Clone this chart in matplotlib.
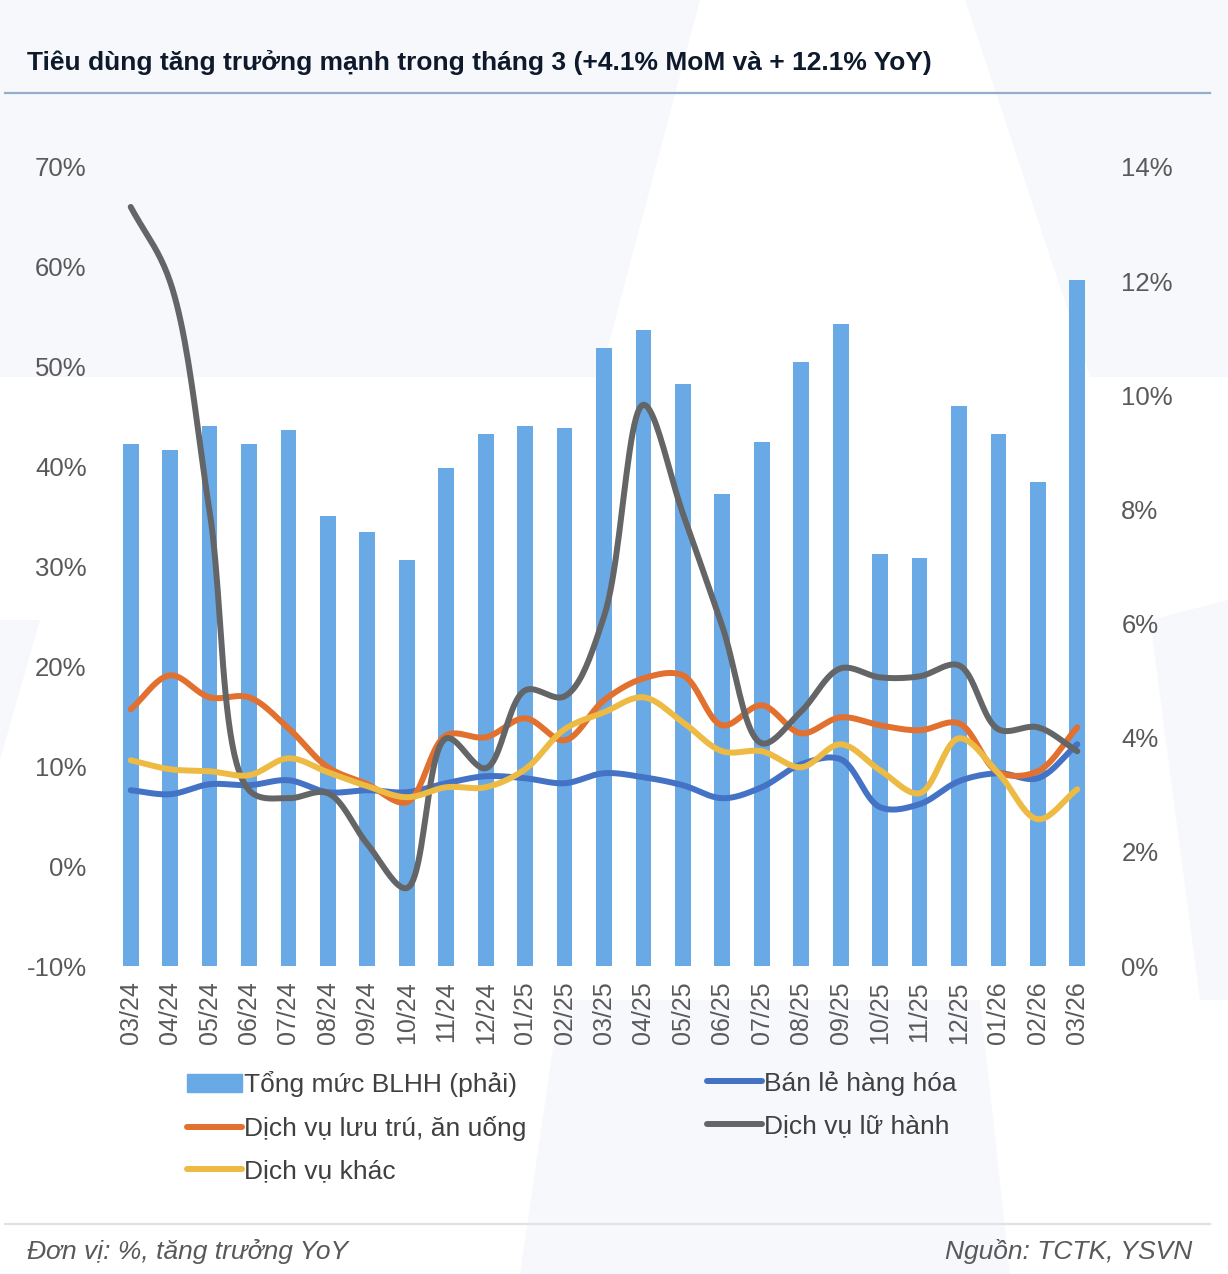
import matplotlib
matplotlib.use("Agg")
import matplotlib.pyplot as plt
from matplotlib.patches import Polygon
from matplotlib.lines import Line2D
import numpy as np

plt.rcParams['font.family'] = ['Liberation Sans', 'DejaVu Sans']

# ---- data ----
months = ['03/24', '04/24', '05/24', '06/24', '07/24', '08/24', '09/24', '10/24',
          '11/24', '12/24', '01/25', '02/25', '03/25', '04/25', '05/25', '06/25',
          '07/25', '08/25', '09/25', '10/25', '11/25', '12/25', '01/26', '02/26', '03/26']

# Tong muc BLHH, right axis (%)
tong_muc = [9.15, 9.04, 9.46, 9.15, 9.39, 7.89, 7.60, 7.11, 8.73, 9.32, 9.46, 9.43,
            10.83, 11.14, 10.20, 8.27, 9.18, 10.58, 11.25, 7.22, 7.15, 9.81, 9.32, 8.48, 12.02]

# left axis (%)
ban_le = [7.6, 7.2, 8.2, 8.1, 8.6, 7.4, 7.6, 7.4, 8.3, 9.0, 8.8, 8.3,
          9.3, 8.9, 8.1, 6.8, 7.9, 10.2, 10.7, 5.9, 6.2, 8.5, 9.3, 8.8, 12.2]
luu_tru = [15.7, 19.1, 16.9, 16.9, 13.8, 9.9, 8.2, 6.4, 13.1, 12.9, 14.8, 12.6,
           16.6, 18.8, 19.1, 14.1, 16.1, 13.3, 14.9, 14.1, 13.6, 14.3, 9.4, 9.5, 13.9]
lu_hanh = [66.0, 58.5, 35.5, 7.6, 6.8, 7.3, 2.2, -2.2, 12.8, 9.8, 17.6, 17.0,
           25.0, 46.2, 35.3, 24.0, 12.3, 15.5, 19.8, 18.9, 19.0, 20.1, 13.7, 13.9, 11.5]
khac = [10.6, 9.7, 9.5, 9.1, 10.8, 9.4, 8.0, 6.9, 7.9, 7.9, 9.7, 13.7,
        15.4, 16.9, 14.4, 11.5, 11.5, 9.9, 12.2, 9.6, 7.3, 12.8, 9.3, 4.7, 7.7]

names = ['Tổng mức BLHH (phải)', 'Bán lẻ hàng hóa', 'Dịch vụ lưu trú, ăn uống',
         'Dịch vụ lữ hành', 'Dịch vụ khác']

left_ticks = [-10, 0, 10, 20, 30, 40, 50, 60, 70]
right_ticks = [0, 2, 4, 6, 8, 10, 12, 14]

title = 'Tiêu dùng tăng trưởng mạnh trong tháng 3 (+4.1% MoM và + 12.1% YoY)'
note_left = 'Đơn vị: %, tăng trưởng YoY'
note_right = 'Nguồn: TCTK, YSVN'

BAR = '#69A9E5'
BLUE = '#4472C4'
ORANGE = '#E2702F'
GRAY = '#646567'
YELLOW = '#EDBA43'
TICK = '#595959'

W, H = 1228, 1274


def fx(px):
    return px / W


def fy(py):
    return 1 - py / H


def smooth(y, sx=39.4, sy=10.0, n=24, alpha=0.5):
    # centripetal catmull-rom in screen-like units, close to Excel's smoothed lines
    x = np.arange(len(y), dtype=float)
    P = np.column_stack([x * sx, np.asarray(y, float) * sy])
    P = np.vstack([2 * P[0] - P[1], P, 2 * P[-1] - P[-2]])
    out = [P[1][None, :]]
    for i in range(1, len(P) - 2):
        p0, p1, p2, p3 = P[i - 1], P[i], P[i + 1], P[i + 2]
        t0 = 0.0
        t1 = t0 + max(np.linalg.norm(p1 - p0), 1e-6) ** alpha
        t2 = t1 + max(np.linalg.norm(p2 - p1), 1e-6) ** alpha
        t3 = t2 + max(np.linalg.norm(p3 - p2), 1e-6) ** alpha
        t = np.linspace(t1, t2, n)[1:, None]
        A1 = (t1 - t) / (t1 - t0) * p0 + (t - t0) / (t1 - t0) * p1
        A2 = (t2 - t) / (t2 - t1) * p1 + (t - t1) / (t2 - t1) * p2
        A3 = (t3 - t) / (t3 - t2) * p2 + (t - t2) / (t3 - t2) * p3
        B1 = (t2 - t) / (t2 - t0) * A1 + (t - t0) / (t2 - t0) * A2
        B2 = (t3 - t) / (t3 - t1) * A2 + (t - t1) / (t3 - t1) * A3
        C = (t2 - t) / (t2 - t1) * B1 + (t - t1) / (t2 - t1) * B2
        out.append(C)
    C = np.vstack(out)
    return C[:, 0] / sx, C[:, 1] / sy


fig = plt.figure(figsize=(W / 100, H / 100), dpi=100)
fig.patch.set_facecolor('white')

# faint watermark shapes in the background
wm = '#F7F8FB'
shapes = [
    [(0, 0), (700, 0), (600, 377), (0, 377)],
    [(965, 0), (W, 0), (W, 377), (1090, 377)],
    [(0, 620), (40, 620), (0, 760)],
    [(1150, 620), (W, 600), (W, 1000), (1200, 1000)],
    [(560, 1000), (980, 1000), (1010, 1274), (520, 1274)],
]
for s in shapes:
    fig.add_artist(Polygon([(fx(a), fy(b)) for a, b in s], closed=True,
                           transform=fig.transFigure, facecolor=wm,
                           edgecolor='none', zorder=-10))

ax = fig.add_axes([fx(111), fy(966), fx(1097) - fx(111), fy(167) - fy(966)])
ax2 = ax.twinx()
ax.set_zorder(ax2.get_zorder() + 1)
ax.patch.set_visible(False)

x = np.arange(len(months))
ax2.bar(x, tong_muc, width=0.4, color=BAR, zorder=1)
ax2.set_ylim(0, 14)
ax2.set_yticks(right_ticks)
ax2.set_yticklabels([f'{v}%' for v in right_ticks])

for vals, col in [(ban_le, BLUE), (luu_tru, ORANGE), (lu_hanh, GRAY), (khac, YELLOW)]:
    sx_, sy_ = smooth(vals)
    ax.plot(sx_, sy_, color=col, lw=4.3, solid_capstyle='round', zorder=3)

ax.set_xlim(-0.5, len(months) - 0.5)
ax.set_ylim(-10, 70)
ax.set_yticks(left_ticks)
ax.set_yticklabels([f'{v}%' for v in left_ticks])
ax.set_xticks(x)
ax.set_xticklabels(months, rotation=90)

for a in (ax, ax2):
    for sp in a.spines.values():
        sp.set_visible(False)
ax.tick_params(axis='y', length=0, pad=17.5, labelsize=18.5, labelcolor=TICK)
ax.tick_params(axis='x', length=0, pad=11, labelsize=18, labelcolor=TICK)
ax2.tick_params(axis='y', length=0, pad=17.5, labelsize=18.5, labelcolor=TICK)

# title and rules
fig.text(fx(27), fy(63), title, fontsize=19, fontweight='bold', color='#0E1A2B',
         ha='left', va='center')
fig.add_artist(Line2D([fx(5), fx(1210)], [fy(93), fy(93)], color='#93AECB', lw=1.6,
                      transform=fig.transFigure))
fig.add_artist(Line2D([fx(5), fx(1210)], [fy(1224), fy(1224)], color='#E2E2E2', lw=1.6,
                      transform=fig.transFigure))

# legend
h_bar = plt.Rectangle((0, 0), 1, 1, color=BAR)
h_blue = Line2D([], [], color=BLUE, lw=4.3, solid_capstyle='round')
h_or = Line2D([], [], color=ORANGE, lw=4.3, solid_capstyle='round')
h_gr = Line2D([], [], color=GRAY, lw=4.3, solid_capstyle='round')
h_ye = Line2D([], [], color=YELLOW, lw=4.3, solid_capstyle='round')
leg_kw = dict(loc='upper left', frameon=False, fontsize=19, handlelength=2.1,
              handletextpad=0.05, labelspacing=0.71, borderpad=0, borderaxespad=0,
              labelcolor='#404040')
leg1 = fig.legend([h_bar, h_or, h_ye], [names[0], names[2], names[4]],
                  bbox_to_anchor=(fx(187), fy(1071)), **leg_kw)
leg2 = fig.legend([h_blue, h_gr], [names[1], names[3]],
                  bbox_to_anchor=(fx(707), fy(1071)), **leg_kw)

# footer
fig.text(fx(27), fy(1251), note_left, fontsize=19, style='italic', color=TICK,
         ha='left', va='center')
fig.text(fx(1192), fy(1251), note_right, fontsize=19, style='italic', color=TICK,
         ha='right', va='center')

fig.savefig('out.png', dpi=100, facecolor='white')
